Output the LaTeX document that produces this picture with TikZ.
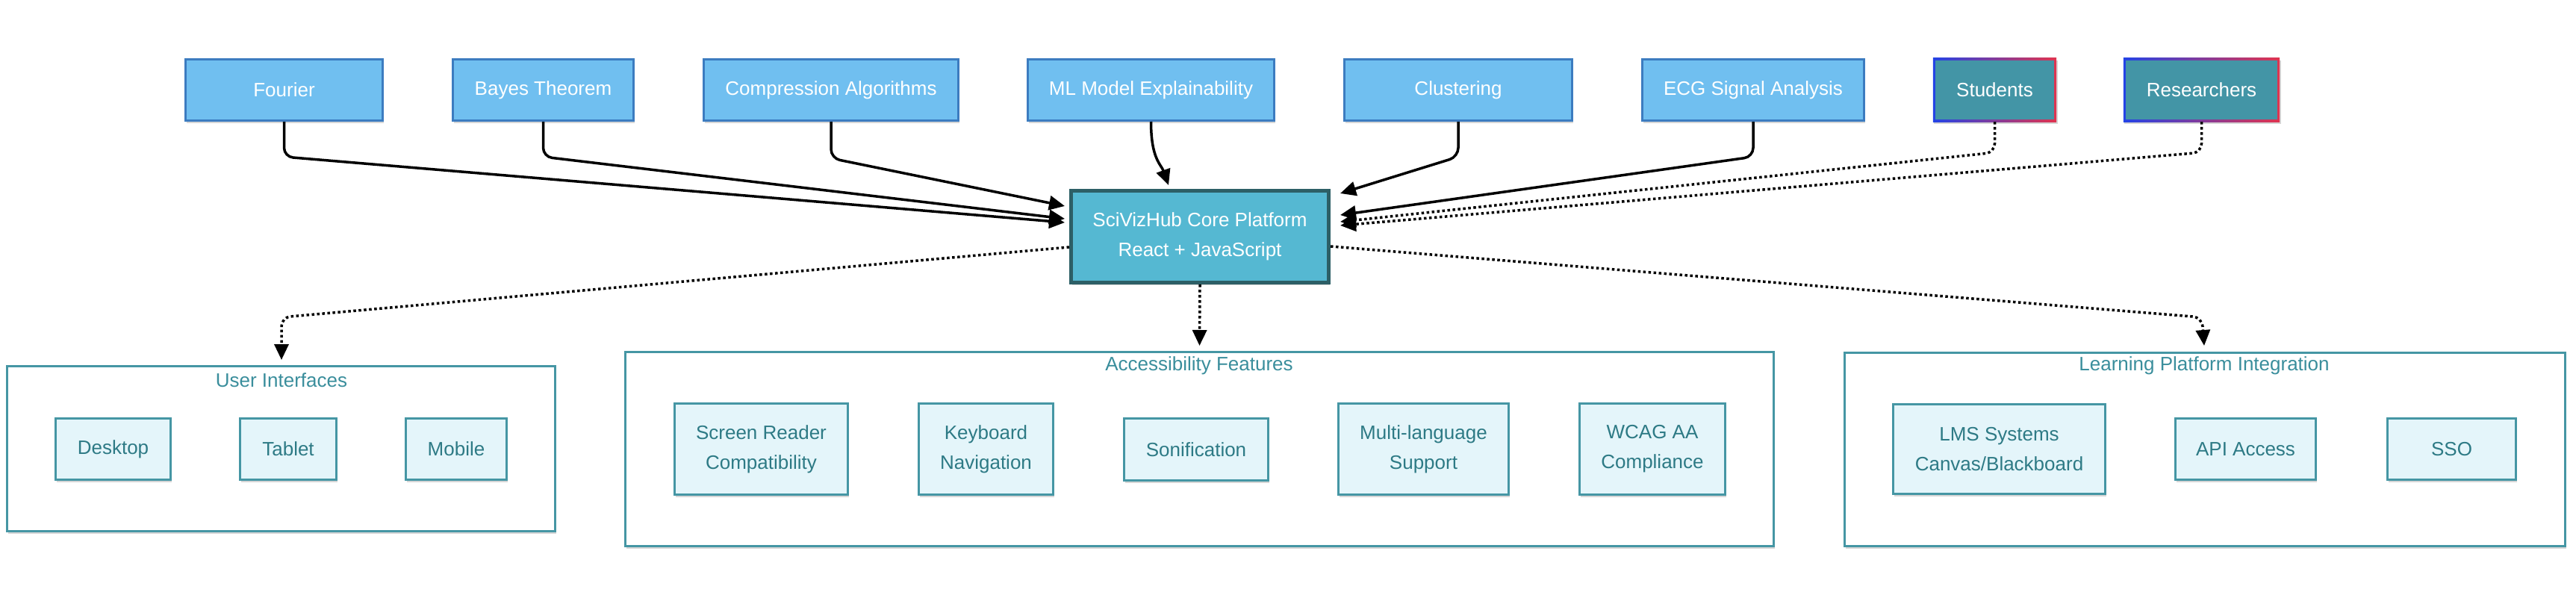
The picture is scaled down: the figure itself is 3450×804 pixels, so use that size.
\documentclass[tikz,border=0pt]{standalone}
\usepackage{fontspec}
\setmainfont{Liberation Sans}
\usetikzlibrary{arrows.meta,calc,backgrounds,shadows}
\definecolor{topfill}{HTML}{70BFF0}
\definecolor{topline}{HTML}{3C7CC0}
\definecolor{userfill}{HTML}{4395A6}
\definecolor{gradL}{HTML}{2343E6}
\definecolor{gradR}{HTML}{E0344F}
\definecolor{corefill}{HTML}{55B8D2}
\definecolor{coreline}{HTML}{2D5F66}
\definecolor{grpline}{HTML}{4596A4}
\definecolor{itemfill}{HTML}{E4F5FA}
\definecolor{itemtext}{HTML}{2D7A85}
\definecolor{grptext}{HTML}{3A8E9C}
\tikzset{
  sh/.style={drop shadow={shadow xshift=1.5pt,shadow yshift=-3pt,opacity=0.16,fill=black}},
  base/.style={font=\fontsize{26}{40}\selectfont, align=center, inner sep=0pt},
  topbox/.style={base, fill=topfill, draw=topline, line width=3pt, text=white, minimum height=82pt, sh},
  userbox/.style={base, fill=userfill, text=white, minimum height=79pt},
  corebox/.style={base, fill=corefill, draw=coreline, line width=5pt, text=white, minimum width=345pt, minimum height=123pt, sh},
  grpbox/.style={base, fill=white, draw=grpline, line width=3pt, sh},
  grplabel/.style={base, text=grptext},
  itembox/.style={base, fill=itemfill, draw=grpline, line width=3pt, text=itemtext, sh},
  conn/.style={line width=3.5pt, rounded corners=12pt, -{Triangle[length=21pt,width=19pt]}},
  dotconn/.style={conn, dash pattern=on 3.5pt off 3.5pt},
}
\begin{document}
\begin{tikzpicture}[x=1pt,y=-1pt]
\useasboundingbox (0,0) rectangle (3450,804);
% top row
\node[topbox, minimum width=264pt] (fou) at (380.5,120.5) {Fourier};
\node[topbox, minimum width=242pt] (bay) at (727.5,120.5) {Bayes Theorem};
\node[topbox, minimum width=341pt] (com) at (1113,120.5) {Compression Algorithms};
\node[topbox, minimum width=330pt] (mlx) at (1541.5,120.5) {ML Model Explainability};
\node[topbox, minimum width=305pt] (clu) at (1953,120.5) {Clustering};
\node[topbox, minimum width=297pt] (ecg) at (2348,120.5) {ECG Signal Analysis};
\node[userbox, minimum width=159pt] (stu) at (2671.5,120.5) {Students};
\node[userbox, minimum width=203pt] (res) at (2948.5,120.5) {Researchers};
\begin{scope}[on background layer]
  \shade[left color=gradL, right color=gradR, sh] ($(stu.south west)+(-3,3)$) rectangle ($(stu.north east)+(3,-3)$);
  \shade[left color=gradL, right color=gradR, sh] ($(res.south west)+(-3,3)$) rectangle ($(res.north east)+(3,-3)$);
\end{scope}
% core
\node[corebox] (core) at (1607,317) {SciVizHub Core Platform\\React + JavaScript};
% groups
\node[grpbox, minimum width=734pt, minimum height=221pt] (ui) at (376.5,601) {};
\node[grplabel] (uil) at (377,509) {User Interfaces};
\node[grpbox, minimum width=1538pt, minimum height=260pt] (acc) at (1606.5,601.5) {};
\node[grplabel] (accl) at (1606,490) {Accessibility Features};
\node[grpbox, minimum width=965pt, minimum height=259pt] (lrn) at (2953,602) {};
\node[grplabel] (lrnl) at (2952,490) {Learning Platform Integration};
% items
\node[itembox, minimum width=154pt, minimum height=82pt] (dsk) at (151.5,601.5) {Desktop};
\node[itembox, minimum width=129pt, minimum height=82pt] (tab) at (386,601.5) {Tablet};
\node[itembox, minimum width=135pt, minimum height=82pt] (mob) at (611,601.5) {Mobile};
\node[itembox, minimum width=232pt, minimum height=122pt] (scr) at (1019.5,601.5) {Screen Reader\\Compatibility};
\node[itembox, minimum width=180pt, minimum height=122pt] (key) at (1320.5,601.5) {Keyboard\\Navigation};
\node[itembox, minimum width=193pt, minimum height=83pt] (son) at (1602,602) {Sonification};
\node[itembox, minimum width=228pt, minimum height=122pt] (mul) at (1906.5,601.5) {Multi-language\\Support};
\node[itembox, minimum width=195pt, minimum height=122pt] (wca) at (2213,601.5) {WCAG AA\\Compliance};
\node[itembox, minimum width=284pt, minimum height=120pt] (lms) at (2677.5,601.5) {LMS Systems\\Canvas/Blackboard};
\node[itembox, minimum width=188pt, minimum height=82pt] (api) at (3007.5,601.5) {API Access};
\node[itembox, minimum width=172pt, minimum height=82pt] (sso) at (3283.5,601.5) {SSO};
% arrow end points
\coordinate (inC) at ($(core.north west)+(-6,23)$);
\coordinate (inB) at ($(core.north west)+(-6,40)$);
\coordinate (inF) at ($(core.north west)+(-6,45)$);
\coordinate (inML) at ($(core.north)+(-42,-5)$);
\coordinate (inCl) at ($(core.north east)+(13,6)$);
\coordinate (inE) at ($(core.north east)+(13,35)$);
\coordinate (inS) at ($(core.north east)+(13,44)$);
\coordinate (inR) at ($(core.north east)+(13,49)$);
\coordinate (outL) at ($(core.north west)+(0,78)$);
\coordinate (outR) at ($(core.north east)+(0,77)$);
\coordinate (toUI) at ($(ui.north)+(0.5,-7)$);
\coordinate (toAcc) at ($(acc.north)+(0,-7)$);
\coordinate (toLrn) at ($(lrn.north)+(-1,-8)$);
% connectors in
\draw[conn] (fou.south) -- ++(0,47) -- (inF);
\draw[conn] (bay.south) -- ++(0,47) -- (inB);
\draw[conn] (com.south) -- ++(0,49) -- (inC);
\draw[conn] (mlx.south) .. controls +(0,50) and +(-10,-28) .. (inML);
\draw[conn] (clu.south) -- ++(0,47) -- (inCl);
\draw[conn] (ecg.south) -- ++(0,47) -- (inE);
\draw[dotconn] (stu.south) ++(0,3) -- ++(0,41) -- (inS);
\draw[dotconn] (res.south) ++(0,3) -- ++(0,41) -- (inR);
% connectors out
\draw[dotconn] (outL) -- (377,425) -- (toUI);
\draw[dotconn] (core.south) -- (toAcc);
\draw[dotconn] (outR) -- (2949,425) -- (toLrn);
\end{tikzpicture}
\end{document}
